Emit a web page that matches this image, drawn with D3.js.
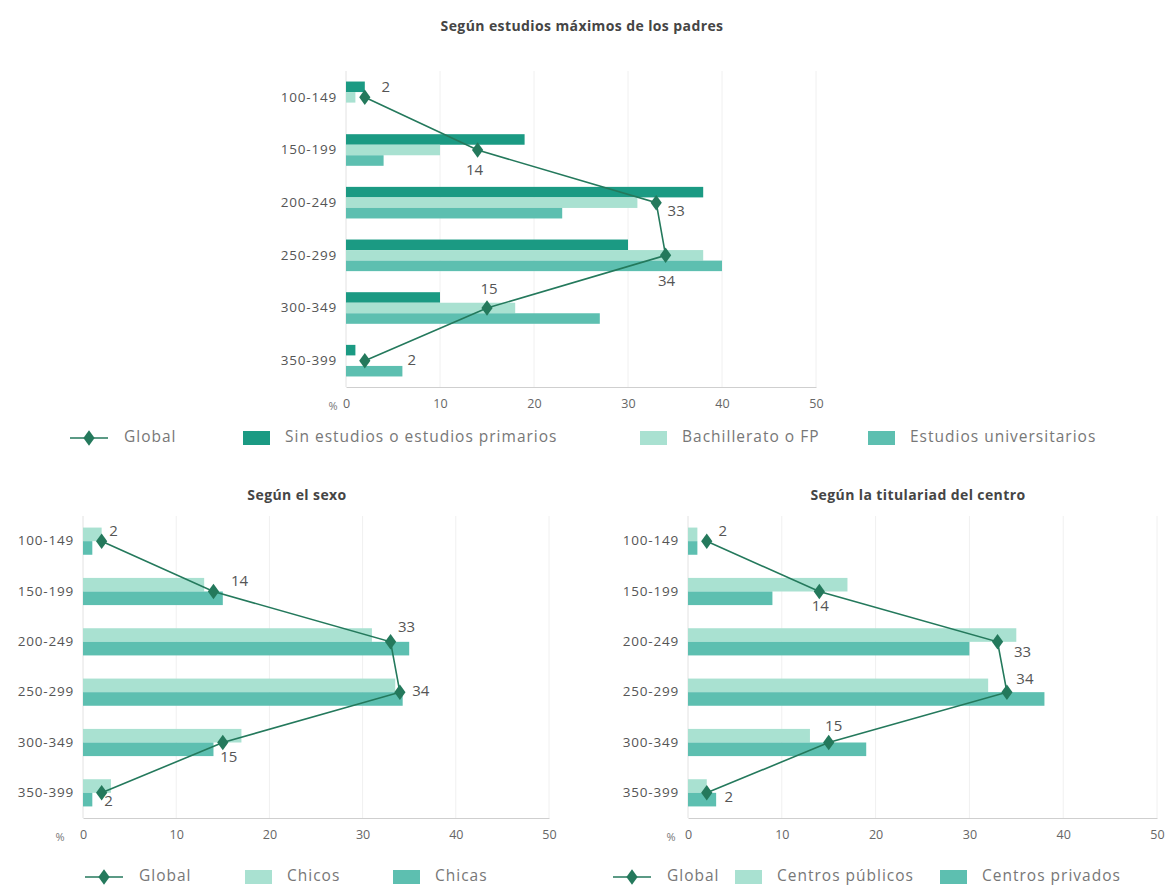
<!DOCTYPE html>
<html><head><meta charset="utf-8">
<script src="https://cdn.jsdelivr.net/npm/d3@7"></script>
<style>
body{margin:0;background:#fff;}
text{font-family:"Open Sans","Noto Sans",sans-serif;}
</style></head>
<body><svg id="c" width="1173" height="888"></svg>
<script>
// ---- data ----
const categories = ["100-149","150-199","200-249","250-299","300-349","350-399"];
const xTicks = [0,10,20,30,40,50];
const globalValues = [2,14,33,34,15,2];
// Según estudios máximos de los padres
const padresSin  = [2,19,38,30,10,1];
const padresBach = [1,10,31,38,18,0];
const padresUni  = [0,4,23,40,27,6];
// Según el sexo
const sexoChicos = [2,13,31,33.5,17,3];
const sexoChicas = [1,15,35,34.3,14,1];
// Según la titularidad del centro
const centroPublicos = [1,17,35,32,13,2];
const centroPrivados = [1,9,30,38,19,3];

const titles = ["Según estudios máximos de los padres","Según el sexo","Según la titulariad del centro"];
const legendPadres = ["Global","Sin estudios o estudios primarios","Bachillerato o FP","Estudios universitarios"];
const legendSexo = ["Global","Chicos","Chicas"];
const legendCentro = ["Global","Centros públicos","Centros privados"];

// ---- styles ----
const C_DARK = "#1b9a83", C_LIGHT = "#a9e1d1", C_MID = "#5dbfb0", C_LINE = "#24795c";
const svg = d3.select("#c");
svg.append("rect").attr("width",1173).attr("height",888).attr("fill","#fff");

function drawChart(cfg){
  const g = svg.append("g");
  const x = d3.scaleLinear().domain([0,50]).range(cfg.xr);
  const y = d3.scaleBand().domain(categories).range(cfg.yr).paddingInner(cfg.pad).paddingOuter(cfg.pad/2);
  const sub = d3.scaleBand().domain(d3.range(cfg.series.length)).range([0,y.bandwidth()]);
  // title
  g.append("text").attr("x",cfg.titleX).attr("y",cfg.titleY).attr("text-anchor","middle")
    .attr("font-size",14).attr("font-weight",700).attr("fill","#454545")
    .attr("letter-spacing",0.4).text(cfg.title);
  // grid
  g.selectAll(".grid").data(xTicks.slice(1)).join("line")
    .attr("x1",d=>x(d)).attr("x2",d=>x(d)).attr("y1",cfg.yr[0]).attr("y2",cfg.yr[1])
    .attr("stroke","#f0f0f0").attr("stroke-width",1);
  // left axis line
  g.append("line").attr("x1",x(0)).attr("x2",x(0)).attr("y1",cfg.yr[0]).attr("y2",cfg.yr[1]).attr("stroke","#e2e2e2");
  // bottom axis
  const ax = g.append("g").attr("transform",`translate(0,${cfg.yr[1]})`)
    .call(d3.axisBottom(x).tickValues(xTicks).tickSize(0).tickPadding(cfg.tickPad));
  ax.select(".domain").attr("stroke","#cfcfcf");
  ax.selectAll("text").attr("font-size",12.5).attr("fill","#666").style("font-family","'Open Sans',sans-serif");
  g.append("text").attr("x",cfg.pctX).attr("y",cfg.yr[1]+cfg.tickPad+11).attr("text-anchor","middle")
    .attr("font-size",11).attr("fill","#777").text("%");
  // category axis
  const ay = g.append("g").attr("transform",`translate(${x(0)},0)`)
    .call(d3.axisLeft(y).tickSize(0).tickPadding(9));
  ay.select(".domain").remove();
  ay.selectAll("text").attr("font-size",13.5).attr("fill","#555").attr("letter-spacing",0.8)
    .style("font-family","'Open Sans',sans-serif");
  // bars
  cfg.series.forEach((s,si)=>{
    g.selectAll(null).data(s.values).join("rect")
      .attr("x",x(0)).attr("y",(d,i)=>y(categories[i])+sub(si))
      .attr("width",d=>x(d)-x(0)).attr("height",sub.bandwidth())
      .attr("fill",s.color);
  });
  // global line
  const pts = globalValues.map((v,i)=>[x(v), y(categories[i])+y.bandwidth()/2]);
  g.append("path").attr("d",d3.line()(pts)).attr("fill","none").attr("stroke",C_LINE).attr("stroke-width",1.6);
  const diamond = d3.symbol().type(d3.symbolDiamond).size(70);
  g.selectAll(null).data(pts).join("path").attr("d",diamond)
    .attr("transform",(p)=>`translate(${p[0]},${p[1]}) scale(1.25,1)`).attr("fill",C_LINE);
  g.selectAll(null).data(globalValues).join("text")
    .attr("x",(v,i)=>pts[i][0]+cfg.lab[i][0]).attr("y",(v,i)=>pts[i][1]+cfg.lab[i][1])
    .attr("text-anchor","middle").attr("dominant-baseline","middle")
    .attr("font-size",15).attr("fill","#555").text(v=>v);
  // legend
  const lg = g.append("g");
  cfg.legend.forEach((name,i)=>{
    const lx = cfg.legX[i];
    if(i===0){
      lg.append("line").attr("x1",lx).attr("x2",lx+38).attr("y1",cfg.legY).attr("y2",cfg.legY).attr("stroke",C_LINE).attr("stroke-width",1.6);
      lg.append("path").attr("d",diamond).attr("transform",`translate(${lx+19},${cfg.legY}) scale(1.25,1)`).attr("fill",C_LINE);
      lg.append("text").attr("x",lx+54).attr("y",cfg.legY).attr("dominant-baseline","middle")
        .attr("font-size",15.5).attr("letter-spacing",1).attr("fill","#777").text(name);
    } else {
      lg.append("rect").attr("x",lx).attr("y",cfg.legY-7).attr("width",27).attr("height",14).attr("fill",cfg.series[i-1].color);
      lg.append("text").attr("x",lx+42).attr("y",cfg.legY).attr("dominant-baseline","middle")
        .attr("font-size",15.5).attr("letter-spacing",1).attr("fill","#777").text(name);
    }
  });
}

drawChart({
  title:titles[0], titleX:582, titleY:31,
  xr:[346,816], yr:[71,387], pad:0.4, tickPad:12, pctX:333,
  series:[{values:padresSin,color:C_DARK},{values:padresBach,color:C_LIGHT},{values:padresUni,color:C_MID}],
  lab:[[21,-9],[-3,21],[20,9],[1,27],[2,-18],[47,0]],
  legend:legendPadres, legX:[70,243,640,868], legY:438
});
drawChart({
  title:titles[1], titleX:297, titleY:500,
  xr:[83,549], yr:[516,818], pad:0.46, tickPad:12, pctX:60,
  series:[{values:sexoChicos,color:C_LIGHT},{values:sexoChicas,color:C_MID}],
  lab:[[12,-9],[26,-10],[16,-14],[21,0],[6,15],[7,9]],
  legend:legendSexo, legX:[85,245,393], legY:877
});
drawChart({
  title:titles[2], titleX:918, titleY:500,
  xr:[688,1157], yr:[516,818], pad:0.46, tickPad:12, pctX:671,
  series:[{values:centroPublicos,color:C_LIGHT},{values:centroPrivados,color:C_MID}],
  lab:[[16,-9],[1,15],[25,11],[18,-12],[5,-16],[22,5]],
  legend:legendCentro, legX:[613,735,940], legY:877
});
</script></body></html>
